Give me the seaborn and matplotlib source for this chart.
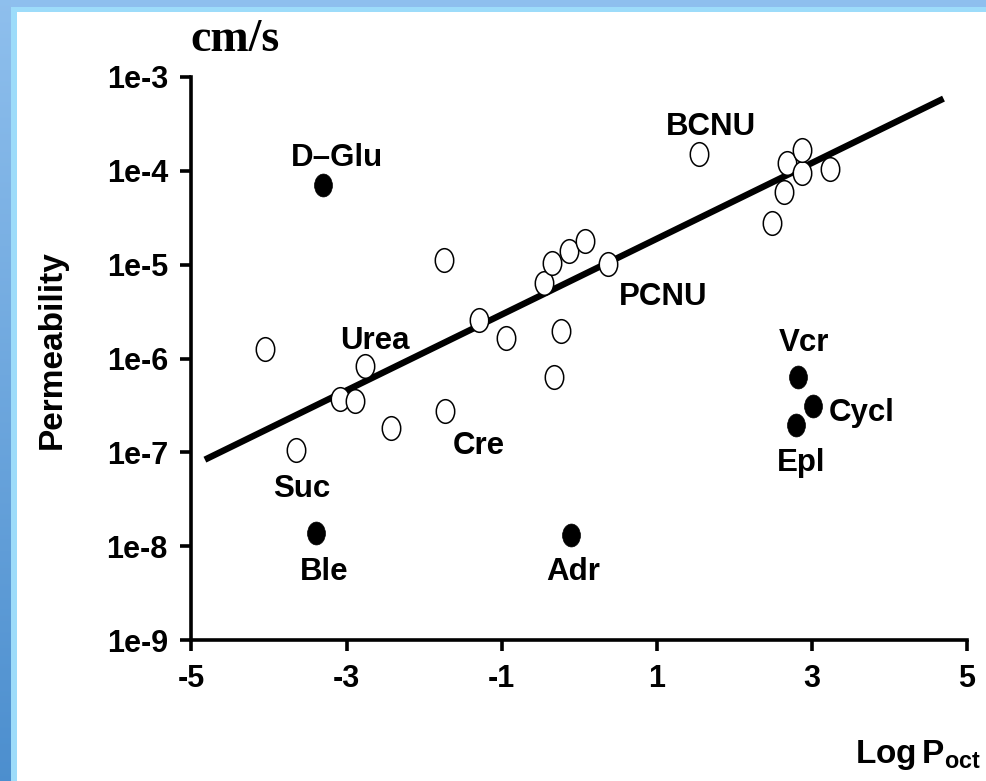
import numpy as np
import matplotlib
matplotlib.use("Agg")
import matplotlib.pyplot as plt
from matplotlib.path import Path
from matplotlib.transforms import Affine2D
from matplotlib.patches import Rectangle
from matplotlib.ticker import NullLocator
import seaborn as sns

# ---- data: log octanol/water partition coefficient vs. permeability (cm/s) ----
open_logp = [-4.05, -3.65, -3.08, -2.89, -2.76, -2.43, -1.74, -1.73, -1.29, -0.94,
             -0.45, -0.35, -0.32, -0.23, -0.13, 0.08, 0.37, 1.55, 2.48, 2.64,
             2.68, 2.87, 2.87, 3.23]
open_perm = [1.26e-6, 1.05e-7, 3.7e-7, 3.5e-7, 8.3e-7, 1.8e-7, 1.12e-5, 2.75e-7,
             2.6e-6, 1.66e-6, 6.3e-6, 1.05e-5, 6.3e-7, 1.95e-6, 1.4e-5, 1.8e-5,
             1.02e-5, 1.5e-4, 2.8e-5, 6.0e-5, 1.2e-4, 9.5e-5, 1.66e-4, 1.05e-4]
open_names = {1: "Suc", 4: "Urea", 7: "Cre", 16: "PCNU", 17: "BCNU"}

filled_names = ["D\u2013Glu", "Vcr", "Cycl", "Epl", "Ble", "Adr"]
filled_logp = [-3.30, 2.82, 3.02, 2.79, -3.40, -0.10]
filled_perm = [7.1e-5, 6.3e-7, 3.1e-7, 1.95e-7, 1.38e-8, 1.30e-8]

# regression: log10(P) = fit_intercept + fit_slope * logPoct
fit_intercept = -5.128
fit_slope = 0.404
fit_range = [-4.79, 4.66]

xticks = [-5, -3, -1, 1, 3, 5]
xtick_labels = ["-5", "-3", "-1", "1", "3", "5"]
yticks = [1e-9, 1e-8, 1e-7, 1e-6, 1e-5, 1e-4, 1e-3]
ytick_labels = ["1e-9", "1e-8", "1e-7", "1e-6", "1e-5", "1e-4", "1e-3"]

# label placement, offsets in points from the marker
label_offsets = {
    "Suc": (4, -28, "center"), "Urea": (7, 18, "center"), "Cre": (24, -25, "center"),
    "PCNU": (40, -24, "center"), "BCNU": (8, 20, "center"),
    "D\u2013Glu": (10, 19, "center"), "Vcr": (4, 25, "center"),
    "Cycl": (11, -5, "left"), "Epl": (4, -27, "center"),
    "Ble": (6, -28, "center"), "Adr": (1, -26, "center"),
}

plt.rcParams["font.family"] = ["Liberation Sans", "DejaVu Sans"]
plt.rcParams["font.weight"] = "bold"
plt.rcParams["mathtext.fontset"] = "custom"
plt.rcParams["mathtext.bf"] = "Liberation Sans:bold"
plt.rcParams["mathtext.rm"] = "Liberation Sans:bold"

W, H = 987, 781
fig = plt.figure(figsize=(W / 100, H / 100), dpi=100)
fig.patch.set_facecolor("white")

# blue frame along the left and top edges
bg = fig.add_axes([0, 0, 1, 1], zorder=-5)
bg.set_xlim(0, W)
bg.set_ylim(H, 0)
bg.axis("off")
grad = np.linspace(0, 1, 256)[:, None]
top_c = np.array([0.56, 0.75, 0.93])
bot_c = np.array([0.30, 0.56, 0.81])
grad_img = (top_c[None, None, :] * (1 - grad[..., None]) + bot_c[None, None, :] * grad[..., None])
bg.imshow(grad_img, extent=[0, 11, H, 0], aspect="auto", interpolation="bilinear")
bg.add_patch(Rectangle((11, 0), W - 11, 7, color="#8ebfee", lw=0))
bg.add_patch(Rectangle((11, 7), W - 11, 5, color="#9ddcfa", lw=0))
bg.add_patch(Rectangle((11, 7), 6, H - 7, color="#9ddcfa", lw=0))

ax = fig.add_axes([191.5 / W, 1 - 640 / H, (967 - 191.5) / W, (640 - 77) / H])
ax.set_facecolor("none")

ellipse = Path.unit_circle().transformed(Affine2D().scale(0.78, 1.0))

xs = np.array(fit_range)
sns.lineplot(x=xs, y=10 ** (fit_intercept + fit_slope * xs), ax=ax,
             color="black", linewidth=4.6, zorder=2)
sns.scatterplot(x=open_logp, y=open_perm, ax=ax, marker=ellipse, s=17 ** 2,
                color="white", edgecolor="black", linewidth=1.1, zorder=3)
sns.scatterplot(x=filled_logp, y=filled_perm, ax=ax, marker=ellipse, s=16.5 ** 2,
                color="black", edgecolor="black", linewidth=0.5, zorder=3)

ax.set_yscale("log")
ax.set_xlim(-5, 5)
ax.set_ylim(1e-9, 1e-3)
ax.set_xticks(xticks)
ax.set_xticklabels(xtick_labels)
ax.set_yticks(yticks)
ax.set_yticklabels(ytick_labels)
ax.yaxis.set_minor_locator(NullLocator())
ax.set_xlabel("")
ax.set_ylabel("")
for side in ("top", "right"):
    ax.spines[side].set_visible(False)
for side in ("left", "bottom"):
    ax.spines[side].set_linewidth(2.6)
    ax.spines[side].set_capstyle("projecting")
ax.tick_params(axis="both", direction="out", width=2.6, length=8,
               labelsize=22, pad=9, colors="black")
for lab in ax.get_xticklabels() + ax.get_yticklabels():
    lab.set_fontweight("bold")

def annotate(name, x, y):
    dx, dy, ha = label_offsets[name]
    ax.annotate(name, (x, y), xytext=(dx, dy), textcoords="offset points",
                ha=ha, va="center", fontsize=22.5, fontweight="bold", zorder=4)

for i, name in open_names.items():
    annotate(name, open_logp[i], open_perm[i])
for name, x, y in zip(filled_names, filled_logp, filled_perm):
    annotate(name, x, y)

fig.text(52 / W, 1 - 350 / H, "Permeability", rotation=90, ha="center", va="center",
         fontsize=24, fontweight="bold")
fig.text(190 / W, 1 - 51 / H, "cm/s", family="Liberation Serif", fontweight="bold",
         fontsize=33, ha="left", va="baseline")
fig.text(981 / W, 1 - 763 / H, r"$\mathbf{Log\,P_{oct}}$", ha="right", va="baseline",
         fontsize=24)

fig.savefig("out.png", dpi=100)
